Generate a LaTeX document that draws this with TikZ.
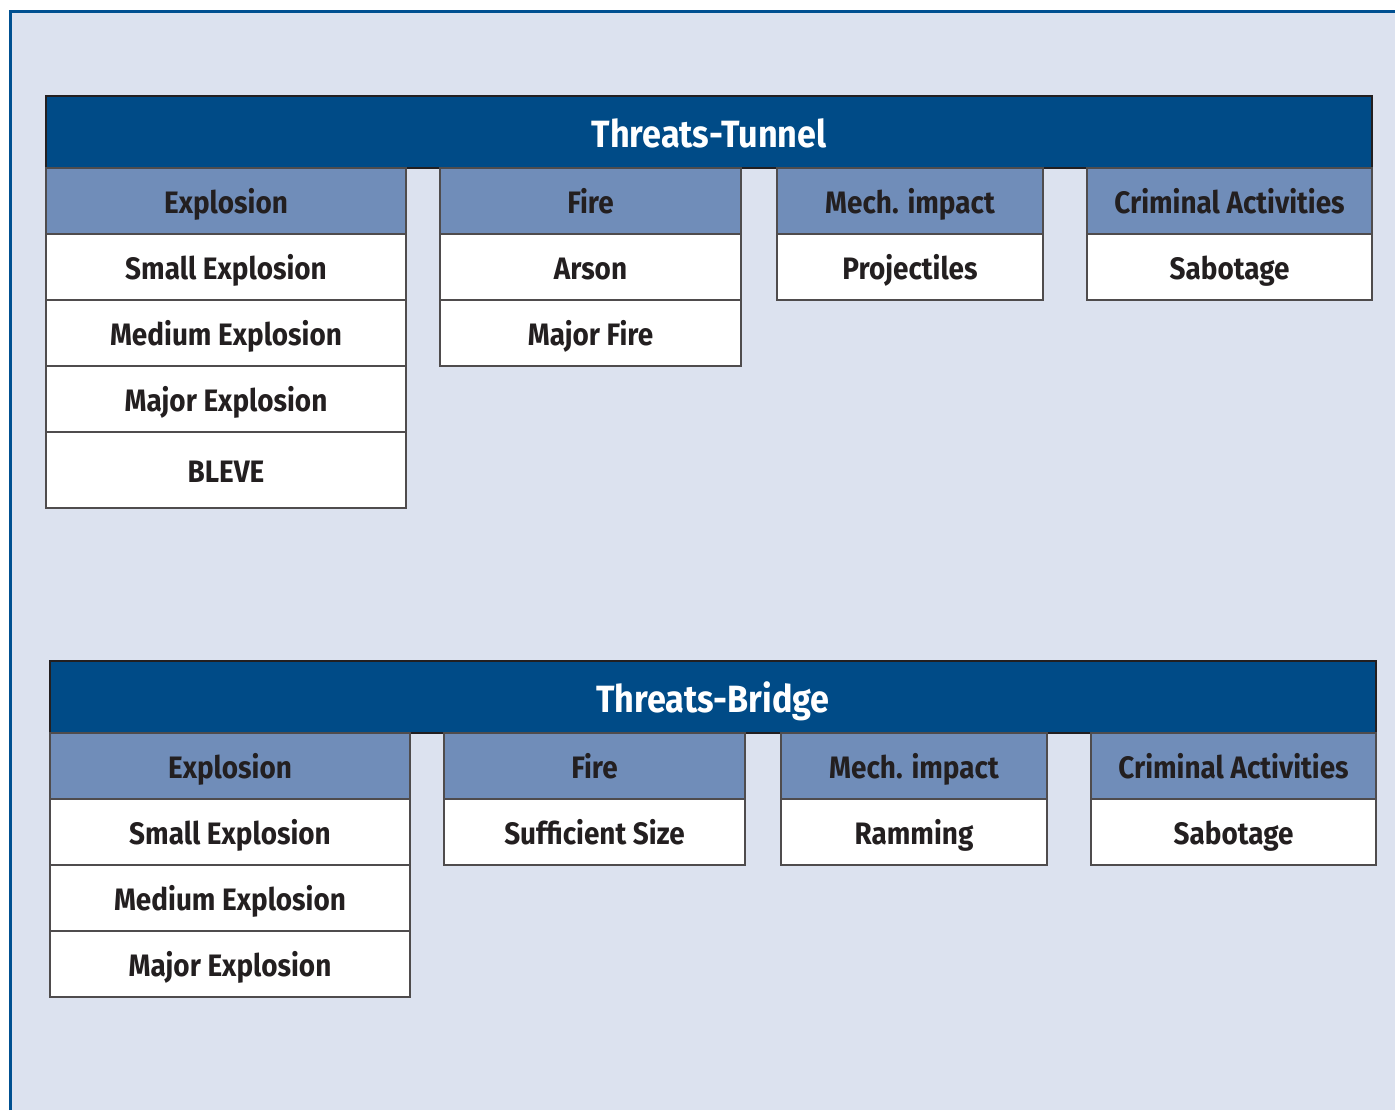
\documentclass[tikz,border=0pt]{standalone}
\usepackage{fontspec}
\setmainfont{Fira Sans}[FakeStretch=0.9]
\usetikzlibrary{positioning}
\definecolor{barblue}{RGB}{0,75,135}
\definecolor{headblue}{RGB}{112,141,185}
\definecolor{panelblue}{RGB}{220,226,239}
\definecolor{frameblue}{RGB}{0,80,145}
\definecolor{inkgray}{RGB}{35,31,32}
\tikzset{
  titlebar/.style={draw=inkgray,line width=0.6pt,fill=barblue,text=white,
    minimum width=663pt,minimum height=36pt,inner sep=0pt,outer sep=0pt,anchor=north west,
    text height=15.1pt,text depth=0pt,
    font=\fontsize{19}{19}\selectfont\bfseries},
  headcell/.style={draw=inkgray!80,line width=0.6pt,fill=headblue,text=inkgray,
    minimum height=33pt,inner sep=0pt,outer sep=0pt,anchor=north west,
    text height=12.7pt,text depth=0pt,
    font=\fontsize{15.5}{15.5}\selectfont\bfseries},
  itemcell/.style={draw=inkgray!80,line width=0.6pt,fill=white,text=inkgray,
    minimum height=33pt,inner sep=0pt,outer sep=0pt,
    text height=12.7pt,text depth=0pt,
    font=\fontsize{15.5}{15.5}\selectfont\bfseries},
  colA/.style={minimum width=180pt},
  colB/.style={minimum width=150.5pt},
  colC/.style={minimum width=133pt},
  colD/.style={minimum width=142.5pt}
}
\begin{document}
\begin{tikzpicture}[x=0.5pt,y=-0.5pt]
\useasboundingbox (0,0) rectangle (1395,1110);
% panel
\fill[panelblue] (10,11) rectangle (1395,1110);
\draw[frameblue,line width=1.5pt] (10,1110) -- (10,11) -- (1395,11);

% tunnel
\node[titlebar] (tun) at (46,96) {Threats-Tunnel};
\node[headcell,colA] (tunexp) at (46,168) {Explosion};
\node[headcell,colB] (tunfire) at (440,168) {Fire};
\node[headcell,colC] (tunmech) at (777,168) {Mech. impact};
\node[headcell,colD] (tuncrim) at (1087,168) {Criminal Activities};
\node[itemcell,colA,below=0pt of tunexp] (tunsmall) {Small Explosion};
\node[itemcell,colA,below=0pt of tunsmall] (tunmedium) {Medium Explosion};
\node[itemcell,colA,below=0pt of tunmedium] (tunmajor) {Major Explosion};
\node[itemcell,colA,minimum height=38pt,below=0pt of tunmajor] (tunbleve) {BLEVE};
\node[itemcell,colB,below=0pt of tunfire] (tunarson) {Arson};
\node[itemcell,colB,below=0pt of tunarson] (tunmajfire) {Major Fire};
\node[itemcell,colC,below=0pt of tunmech] (tunproj) {Projectiles};
\node[itemcell,colD,below=0pt of tuncrim] (tunsabo) {Sabotage};

% bridge
\node[titlebar] (bri) at (50,661) {Threats-Bridge};
\node[headcell,colA] (briexp) at (50,733) {Explosion};
\node[headcell,colB] (brifire) at (444,733) {Fire};
\node[headcell,colC] (brimech) at (781,733) {Mech. impact};
\node[headcell,colD] (bricrim) at (1091,733) {Criminal Activities};
\node[itemcell,colA,below=0pt of briexp] (brismall) {Small Explosion};
\node[itemcell,colA,below=0pt of brismall] (brimedium) {Medium Explosion};
\node[itemcell,colA,below=0pt of brimedium] (brimajor) {Major Explosion};
\node[itemcell,colB,below=0pt of brifire] (brisize) {Sufficient Size};
\node[itemcell,colC,below=0pt of brimech] (briram) {Ramming};
\node[itemcell,colD,below=0pt of bricrim] (brisabo) {Sabotage};
\end{tikzpicture}
\end{document}
